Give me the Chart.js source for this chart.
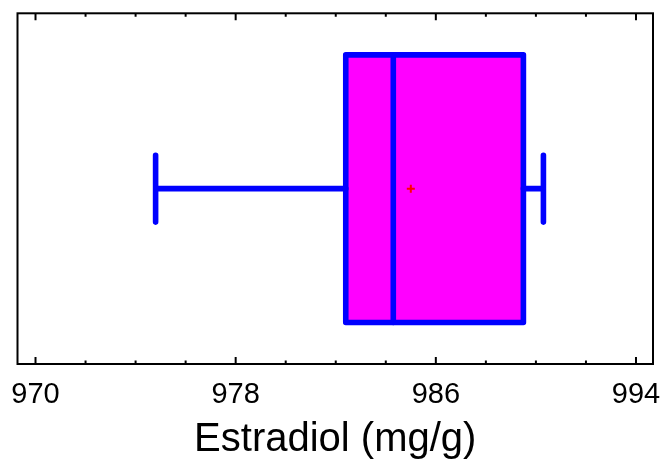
<!DOCTYPE html>
<html>
<head>
<meta charset="utf-8">
<script src="https://cdn.jsdelivr.net/npm/chart.js"></script>
<style>
  body { margin: 0; background: #fff; }
  #wrap { width: 661px; height: 462px; }
</style>
</head>
<body>
<div id="wrap"><canvas id="myChart" width="661" height="462"></canvas></div>
<script>
// box plot summary
var groups = ['Estradiol'];
var whiskerLow = [974.8];
var q1 = [982.4];
var median = [984.3];
var q3 = [989.5];
var whiskerHigh = [990.3];
var mean = [985.0];

// axis
var tickLabels = [970, 978, 986, 994];
var minorStep = 2;
var axisMin = 969.28;
var axisMax = 994.68;

var boxPlot = {
  id: 'boxPlot',
  afterDatasetsDraw: function(chart) {
    var ctx = chart.ctx;
    var x = chart.scales.x;
    var meta = chart.getDatasetMeta(0);
    ctx.save();
    ctx.lineCap = 'round';
    ctx.lineJoin = 'round';
    meta.data.forEach(function(bar, i) {
      var p = bar.getProps(['y', 'height'], true);
      var top = p.y - p.height / 2;
      var capHalf = p.height * 0.125;
      var lo = x.getPixelForValue(whiskerLow[i]);
      var hi = x.getPixelForValue(whiskerHigh[i]);
      var left = x.getPixelForValue(q1[i]);
      var right = x.getPixelForValue(q3[i]);
      var med = x.getPixelForValue(median[i]);
      var mn = x.getPixelForValue(mean[i]);

      ctx.strokeStyle = '#0000ff';
      ctx.lineWidth = 5.6;
      ctx.beginPath();
      ctx.moveTo(lo, p.y); ctx.lineTo(left, p.y);
      ctx.moveTo(right, p.y); ctx.lineTo(hi, p.y);
      ctx.moveTo(lo, p.y - capHalf); ctx.lineTo(lo, p.y + capHalf);
      ctx.moveTo(hi, p.y - capHalf); ctx.lineTo(hi, p.y + capHalf);
      ctx.stroke();
      ctx.strokeRect(left, top, right - left, p.height);
      ctx.beginPath();
      ctx.moveTo(med, top); ctx.lineTo(med, top + p.height);
      ctx.stroke();

      // mean marker
      ctx.strokeStyle = '#ff0000';
      ctx.lineWidth = 2;
      ctx.lineCap = 'butt';
      ctx.beginPath();
      ctx.moveTo(mn - 4, p.y); ctx.lineTo(mn + 4, p.y);
      ctx.moveTo(mn, p.y - 4); ctx.lineTo(mn, p.y + 4);
      ctx.stroke();
      ctx.lineCap = 'round';
    });
    ctx.restore();
  },
  afterDraw: function(chart) {
    var ctx = chart.ctx;
    var a = chart.chartArea;
    var x = chart.scales.x;
    ctx.save();
    ctx.strokeStyle = '#000';
    ctx.lineWidth = 2;
    ctx.strokeRect(a.left, a.top, a.right - a.left, a.bottom - a.top);
    ctx.beginPath();
    x.ticks.forEach(function(t) {
      var px = x.getPixelForValue(t.value);
      var len = tickLabels.indexOf(t.value) >= 0 ? 7 : 3.5;
      ctx.moveTo(px, a.bottom); ctx.lineTo(px, a.bottom - len);
      ctx.moveTo(px, a.top); ctx.lineTo(px, a.top + len);
    });
    ctx.stroke();
    ctx.restore();
  }
};

var ctx = document.getElementById('myChart').getContext('2d');
var myChart = new Chart(ctx, {
  type: 'bar',
  data: {
    labels: groups,
    datasets: [{
      data: groups.map(function(g, i) { return [q1[i], q3[i]]; }),
      backgroundColor: '#ff00ff',
      borderWidth: 0,
      barPercentage: 0.763,
      categoryPercentage: 1
    }]
  },
  options: {
    indexAxis: 'y',
    responsive: false,
    animation: false,
    events: [],
    layout: { padding: { top: 13.3, left: 17.5, right: 8, bottom: 0 } },
    plugins: { legend: { display: false }, tooltip: { enabled: false } },
    scales: {
      y: { display: false },
      x: {
        type: 'linear',
        min: axisMin,
        max: axisMax,
        grid: { display: false, drawTicks: false },
        border: { display: false },
        afterBuildTicks: function(scale) {
          var t = [];
          for (var v = tickLabels[0]; v <= tickLabels[tickLabels.length - 1]; v += minorStep) t.push({ value: v });
          scale.ticks = t;
        },
        afterFit: function(scale) {
          scale.height = 98;
          scale.paddingLeft = 0;
          scale.paddingRight = 0;
        },
        ticks: {
          autoSkip: false,
          maxRotation: 0,
          padding: 14,
          color: '#000',
          font: { family: "'Liberation Sans', Arial, sans-serif", size: 29 },
          callback: function(value) { return tickLabels.indexOf(value) >= 0 ? String(value) : ''; }
        },
        title: {
          display: true,
          text: 'Estradiol (mg/g)',
          color: '#000',
          font: { family: "'Liberation Sans', Arial, sans-serif", size: 40 },
          padding: { top: 0, bottom: -2 }
        }
      }
    }
  },
  plugins: [boxPlot]
});
</script>
</body>
</html>
